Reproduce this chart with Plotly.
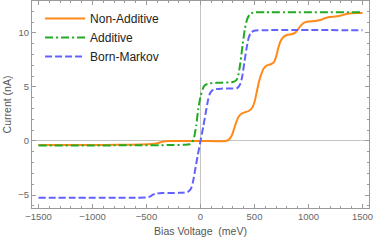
import plotly.graph_objects as go

# Bias voltage (meV) and currents (nA)
na_x = [-1500, -1000, -750, -550, -450, -400, -350, -300, -250, 0, 230, 260, 290, 310, 330, 350, 375,
        410, 450, 480, 500, 520, 540, 560, 585, 615, 650, 680, 700, 720, 740, 765, 800, 850, 880, 905,
        930, 960, 1000, 1060, 1110, 1150, 1190, 1250, 1300, 1340, 1380, 1450, 1500]
na_y = [-0.38, -0.37, -0.35, -0.32, -0.28, -0.2, -0.07, -0.01, 0.0, 0.0, 0.0, 0.1, 0.5, 1.1, 1.7, 2.2, 2.5,
        2.65, 2.8, 3.1, 3.6, 4.5, 5.4, 6.1, 6.7, 7.0, 7.1, 7.3, 7.8, 8.6, 9.2, 9.6, 9.8, 9.9, 10.05, 10.35,
        10.7, 10.95, 11.05, 11.1, 11.2, 11.35, 11.47, 11.52, 11.6, 11.72, 11.8, 11.84, 11.85]

ad_x = [-1500, -600, -300, -150, -100, -80, -60, -40, -20, 0, 20, 40, 70, 150, 300, 330, 350, 370,
        390, 410, 430, 455, 490, 600, 1500]
ad_y = [-0.42, -0.4, -0.38, -0.35, -0.3, -0.15, 0.3, 1.4, 3.0, 4.1, 4.8, 5.15, 5.3, 5.38, 5.45, 5.6,
        6.1, 7.3, 8.9, 10.3, 11.2, 11.7, 11.88, 11.9, 11.9]

bm_x = [-1500, -600, -500, -470, -440, -410, -350, -200, -120, -90, -70, -50, -25, 0, 25, 50, 70, 90,
        120, 200, 340, 365, 385, 405, 425, 445, 465, 495, 600, 1500]
bm_y = [-5.25, -5.25, -5.22, -5.15, -4.97, -4.86, -4.82, -4.8, -4.72, -4.45, -3.8, -2.7, -1.3, 0.0, 1.3,
        2.7, 3.8, 4.45, 4.75, 4.85, 4.9, 5.2, 5.9, 7.2, 8.5, 9.5, 10.0, 10.2, 10.25, 10.25]

names = ["Non-Additive", "Additive", "Born-Markov"]
x_ticks = [-1500, -1000, -500, 0, 500, 1000, 1500]
y_ticks = [-5, 0, 5, 10]

FONT = "Liberation Sans, Arial, sans-serif"
fig = go.Figure()
fig.add_trace(go.Scatter(x=na_x, y=na_y, name=names[0], mode="lines",
                         line=dict(color="#ff8a1a", width=2, shape="spline", smoothing=0.6)))
fig.add_trace(go.Scatter(x=ad_x, y=ad_y, name=names[1], mode="lines",
                         line=dict(color="#22aa22", width=2, dash="8px,3px,2px,3px", shape="spline", smoothing=0.6)))
fig.add_trace(go.Scatter(x=bm_x, y=bm_y, name=names[2], mode="lines",
                         line=dict(color="#6262ff", width=2, dash="7px,3px", shape="spline", smoothing=0.6)))

axis_common = dict(showline=True, linecolor="#9a9a9a", linewidth=1, mirror="ticks",
                   ticks="inside", ticklen=4, tickcolor="#9a9a9a", showgrid=False,
                   zeroline=True, zerolinecolor="#c4c4c4", zerolinewidth=1,
                   tickfont=dict(family=FONT, size=9.5, color="#666"))

fig.update_xaxes(range=[-1560, 1560], tickvals=x_ticks,
                 minor=dict(ticks="inside", ticklen=2, dtick=100, tick0=0, tickcolor="#9a9a9a"),
                 title=dict(text="Bias Voltage  (meV)", font=dict(family=FONT, size=10.5, color="#555"),
                            standoff=6),
                 **axis_common)
fig.update_yaxes(range=[-6.2, 12.95], tickvals=y_ticks,
                 minor=dict(ticks="inside", ticklen=2, dtick=1, tick0=0, tickcolor="#9a9a9a"),
                 title=dict(text="Current (nA)", font=dict(family=FONT, size=10.5, color="#555"),
                            standoff=4),
                 **axis_common)

fig.update_layout(
    width=374, height=241,
    margin=dict(l=32, r=5, t=1, b=33),
    paper_bgcolor="white", plot_bgcolor="white",
    legend=dict(x=0.024, y=0.985, xanchor="left", yanchor="top", bgcolor="rgba(0,0,0,0)",
                font=dict(family=FONT, size=12, color="#222"), itemwidth=40, tracegroupgap=0),
    showlegend=True,
)

fig.write_html("out.html", config={"displayModeBar": False},
               post_script="document.body.style.margin='0';document.body.style.overflow='hidden';")
